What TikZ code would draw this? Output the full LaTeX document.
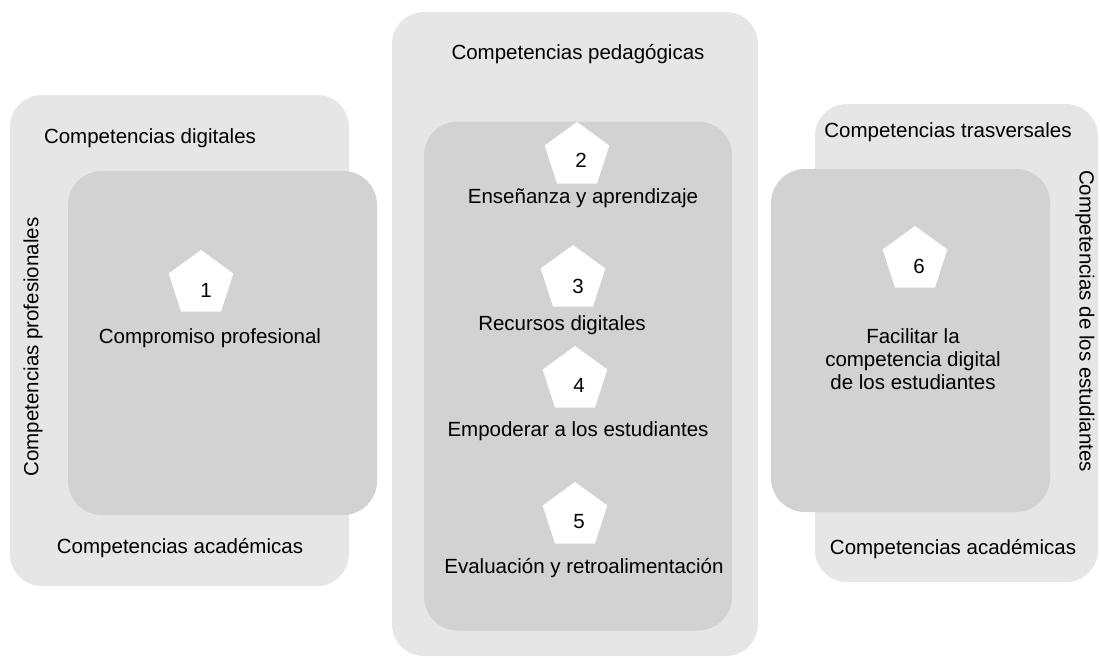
\documentclass[tikz,border=0pt]{standalone}
\usepackage{fontspec}
\setmainfont{Liberation Sans}
\usetikzlibrary{shapes.geometric}
\definecolor{outerg}{HTML}{E6E6E6}
\definecolor{innerg}{HTML}{D2D2D2}
\begin{document}
\begin{tikzpicture}[x=1pt,y=-1pt,
  every node/.style={font=\fontsize{20.5}{23}\selectfont, text=black},
  outerbox/.style={rectangle, rounded corners=32pt, fill=outerg, draw=none, inner sep=0pt},
  innerbox/.style={rectangle, rounded corners=34pt, fill=innerg, draw=none, inner sep=0pt},
  penta/.style={regular polygon, regular polygon sides=5, minimum size=68pt, inner sep=0pt, fill=white, draw=none},
  lbl/.style={inner sep=0pt, anchor=center}
]
\useasboundingbox (0,0) rectangle (1100,657);
% outer boxes
\node[outerbox, minimum width=339pt, minimum height=491pt] (LO) at (179.5,340.5) {};
\node[outerbox, minimum width=366pt, minimum height=644pt] (MO) at (575,334) {};
\node[outerbox, minimum width=283pt, minimum height=478pt] (RO) at (956.5,343) {};
% inner boxes
\node[innerbox, minimum width=309pt, minimum height=344pt] (LI) at (222.5,343) {};
\node[innerbox, minimum width=308pt, minimum height=509pt] (MI) at (578,376) {};
\node[innerbox, minimum width=279pt, minimum height=343pt] (RI) at (910.5,340.5) {};
% pentagons
\node[penta] (P1) at (201,284) {};
\node[penta] (P2) at (577,156) {};
\node[penta] (P3) at (573,279) {};
\node[penta] (P4) at (575,380) {};
\node[penta] (P5) at (575,516) {};
\node[penta] (P6) at (915,260) {};
% numbers
\node[lbl] (n1) at (206,290) {1};
\node[lbl] (n2) at (581,160) {2};
\node[lbl] (n3) at (578,286) {3};
\node[lbl] (n4) at (579,385) {4};
\node[lbl] (n5) at (579,521.5) {5};
\node[lbl] (n6) at (919,266) {6};
% labels left
\node[lbl] (tdig) at (150,138) {Competencias digitales};
\node[lbl] (tacl) at (180,548) {Competencias académicas};
\node[lbl, rotate=90] (tprof) at (33,347) {Competencias profesionales};
\node[lbl] (tcomp) at (210,338) {Compromiso profesional};
% labels middle
\node[lbl] (tped) at (578,54) {Competencias pedagógicas};
\node[lbl] (t2) at (583,198) {Enseñanza y aprendizaje};
\node[lbl] (t3) at (562,325) {Recursos digitales};
\node[lbl] (t4) at (578,431.5) {Empoderar a los estudiantes};
\node[lbl] (t5) at (584,568) {Evaluación y retroalimentación};
% labels right
\node[lbl] (ttras) at (948,132) {Competencias trasversales};
\node[lbl] (tacr) at (953,549) {Competencias académicas};
\node[lbl, rotate=-90] (test) at (1085,321) {Competencias de los estudiantes};
\node[lbl, align=center] (t6) at (913,359) {Facilitar la\\competencia digital\\de los estudiantes};
\end{tikzpicture}
\end{document}
